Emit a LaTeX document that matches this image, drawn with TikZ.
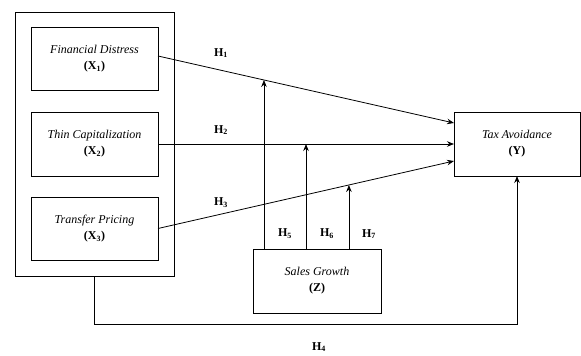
\documentclass[tikz,border=0pt]{standalone}
\usepackage{fontspec}
\setmainfont{Liberation Serif}
\usetikzlibrary{arrows.meta,calc,positioning}
\tikzset{
  every node/.style = {inner sep=0, outer sep=0},
  arrow/.style = {-{Stealth[length=7pt,width=5.5pt]}, line width=0.8pt},
  line/.style = {line width=0.8pt},
  block/.style = {rectangle, draw, line width=0.8pt, minimum height=64pt, align=center, font=\fontsize{12}{16}\selectfont},
  hyp/.style = {font=\fontsize{12}{14}\selectfont\bfseries}
}

\begin{document}
\begin{tikzpicture}[x=1pt, y=-1pt]
    \useasboundingbox (0,0) rectangle (581,356);
    % independent variables
    \node[block, minimum width=159pt, minimum height=264pt] (frame) at (94.5,144) {};
    \node[block, minimum width=127pt, minimum height=63pt] (x1) at (94.5,58.5) {\textit{Financial Distress}\\\textbf{(X\textsubscript{1})}};
    \node[block, minimum width=127pt] (x2) at (94.5,144) {\textit{Thin Capitalization}\\\textbf{(X\textsubscript{2})}};
    \node[block, minimum width=127pt, minimum height=63pt] (x3) at (94.5,228.5) {\textit{Transfer Pricing}\\\textbf{(X\textsubscript{3})}};
    % dependent and moderating variables
    \node[block, minimum width=126pt] (y) at (517,144) {\textit{Tax Avoidance}\\\textbf{(Y)}};
    \node[block, minimum width=128pt] (z) at (317,281) {\textit{Sales Growth}\\\textbf{(Z)}};

    \draw[arrow] ([yshift=2.5pt]x1.east) -- node[coordinate, pos=0.358] (m5) {} ([yshift=21pt]y.west);
    \draw[arrow] (x2.east) -- node[coordinate, pos=0.5] (m6) {} (y.west);
    \draw[arrow] (x3.east) -- node[coordinate, pos=0.645] (m7) {} ([yshift=-17pt]y.west);
    \foreach \m in {m5,m6,m7} {
      \draw[arrow] (z.north -| \m) -- (\m);
    }
    \draw[arrow] (frame.south) -- ++(0,48) -| (y.south);

    % hypothesis labels
    \node[hyp] (h1) at (221,53) {H\textsubscript{1}};
    \node[hyp] (h2) at (221,130) {H\textsubscript{2}};
    \node[hyp] (h3) at (221,203) {H\textsubscript{3}};
    \node[hyp] (h4) at (319,347) {H\textsubscript{4}};
    \node[hyp] (h5) at (285,234) {H\textsubscript{5}};
    \node[hyp] (h6) at (327,234) {H\textsubscript{6}};
    \node[hyp] (h7) at (369,234) {H\textsubscript{7}};
\end{tikzpicture}
\end{document}
